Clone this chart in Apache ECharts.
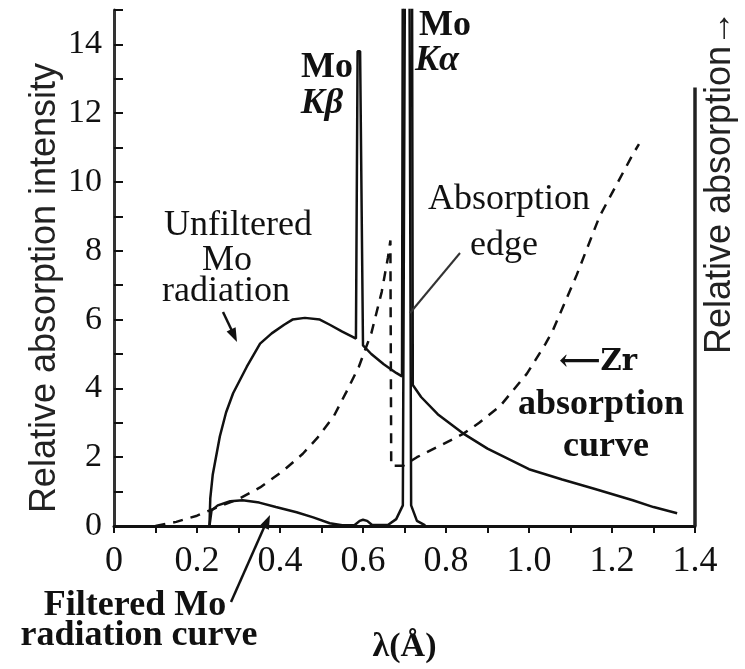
<!DOCTYPE html>
<html>
<head>
<meta charset="utf-8">
<script src="https://cdn.jsdelivr.net/npm/echarts@6/dist/echarts.min.js"></script>
<style>
html,body{margin:0;padding:0;background:#fff;}
#chart{width:745px;height:669px;}
</style>
</head>
<body>
<div id="chart"></div>
<script>
// Tick labels
var xTickLabels = ['0', '0.2', '0.4', '0.6', '0.8', '1.0', '1.2', '1.4'];
var yTickLabels = ['0', '2', '4', '6', '8', '10', '12', '14'];

// Unfiltered Mo radiation: [wavelength (Å), relative intensity]
var unfilteredMo = [
  [0.23, 0], [0.232, 0.8], [0.238, 1.5], [0.255, 2.6], [0.27, 3.3], [0.287, 3.86],
  [0.32, 4.63], [0.352, 5.3], [0.38, 5.6], [0.41, 5.85], [0.43, 6.0], [0.46, 6.05],
  [0.496, 6.0], [0.52, 5.85], [0.55, 5.65], [0.575, 5.5], [0.583, 5.45],
  [0.587, 13.8], [0.593, 13.8], [0.6, 5.25], [0.62, 5.0], [0.65, 4.7], [0.68, 4.45],
  [0.694, 4.35], [0.696, 17], [0.718, 17], [0.72, 4.1], [0.74, 3.75], [0.78, 3.25],
  [0.84, 2.7], [0.9, 2.25], [0.95, 1.95], [1.0, 1.65], [1.08, 1.35], [1.155, 1.09],
  [1.25, 0.75], [1.3, 0.55], [1.357, 0.37]
];

// Filtered Mo radiation curve
var filteredMo = [
  [0.23, 0], [0.235, 0.45], [0.25, 0.6], [0.28, 0.72], [0.31, 0.75], [0.35, 0.68],
  [0.39, 0.55], [0.44, 0.4], [0.48, 0.25], [0.52, 0.08], [0.55, 0.02], [0.58, 0.03],
  [0.592, 0.15], [0.6, 0.18], [0.61, 0.15], [0.622, 0.03], [0.66, 0.03], [0.68, 0.2],
  [0.696, 0.6], [0.701, 16], [0.712, 16], [0.716, 0.6], [0.73, 0.15], [0.75, 0.02]
];

// Zr absorption curve (dashed)
var zrAbsorption = [
  [0.1, 0], [0.15, 0.12], [0.2, 0.3], [0.25, 0.55], [0.3, 0.78], [0.352, 1.12],
  [0.407, 1.6], [0.455, 2.1], [0.49, 2.56], [0.53, 3.2], [0.56, 3.9], [0.59, 4.63],
  [0.62, 5.6], [0.645, 6.8], [0.66, 7.8], [0.666, 8.3], [0.668, 1.75], [0.697, 1.75],
  [0.73, 2.0], [0.78, 2.3], [0.84, 2.67], [0.88, 3.0], [0.93, 3.48], [0.995, 4.43],
  [1.04, 5.3], [1.058, 5.7], [1.115, 7.3], [1.17, 9.0], [1.25, 10.8], [1.265, 11.1]
];

// Right-hand "relative absorption" axis extent
var rightAxis = [[1.4, 0], [1.4, 12.75]];

var chart = echarts.init(document.getElementById('chart'), null, {renderer: 'canvas'});
var serif = '"Liberation Serif", "Times New Roman", serif';
var sans = '"Liberation Sans", Arial, sans-serif';
var ink = '#111';

function txt(text, x, y, size, weight, style, family) {
  return {
    type: 'text', x: x, y: y, z: 10,
    style: {
      text: text, fill: ink,
      font: (style || 'normal') + ' ' + (weight || 'normal') + ' ' + size + 'px ' + (family || serif),
      textAlign: 'center', textVerticalAlign: 'middle'
    }
  };
}

var option = {
  animation: false,
  backgroundColor: '#fff',
  grid: {left: 114, right: 50, top: 10, bottom: 138, containLabel: false},
  xAxis: {
    type: 'value', min: 0, max: 1.4, interval: 0.1,
    name: 'λ(Å)', nameLocation: 'middle', nameGap: 104,
    nameTextStyle: {fontFamily: serif, fontSize: 34, fontWeight: 'bold', color: ink},
    axisLine: {show: true, lineStyle: {color: ink, width: 3}},
    axisTick: {show: true, inside: false, length: 7, lineStyle: {color: ink, width: 2}},
    axisLabel: {
      margin: 18, fontFamily: serif, fontSize: 36, color: ink,
      formatter: function (v) {
        var n = Math.round(v * 10);
        return n % 2 === 0 ? xTickLabels[n / 2] : '';
      }
    },
    splitLine: {show: false}
  },
  yAxis: {
    type: 'value', min: 0, max: 15, interval: 1,
    axisLine: {show: true, lineStyle: {color: '#333', width: 3}},
    axisTick: {show: true, inside: true, length: 9, lineStyle: {color: ink, width: 2}},
    axisLabel: {
      margin: 12, fontFamily: serif, fontSize: 34, color: ink,
      formatter: function (v) {
        var n = Math.round(v);
        return (n % 2 === 0 && n < 15) ? yTickLabels[n / 2] : '';
      }
    },
    splitLine: {show: false}
  },
  series: [
    {
      name: 'Unfiltered Mo radiation', type: 'line', data: unfilteredMo,
      showSymbol: false, symbol: 'none', clip: true,
      lineStyle: {color: ink, width: 2.5}
    },
    {
      name: 'Filtered Mo radiation curve', type: 'line', data: filteredMo,
      showSymbol: false, symbol: 'none', clip: true,
      lineStyle: {color: ink, width: 2.5}
    },
    {
      name: 'Zr absorption curve', type: 'line', data: zrAbsorption,
      showSymbol: false, symbol: 'none', clip: true,
      lineStyle: {color: ink, width: 2.5, type: [10, 8]}
    },
    {
      name: 'Relative absorption axis', type: 'line', data: rightAxis,
      showSymbol: false, symbol: 'none',
      lineStyle: {color: '#222', width: 3.5}
    }
  ],
  graphic: [
    {type: 'text', x: 45, y: 288, rotation: Math.PI / 2, z: 10,
      style: {text: 'Relative absorption intensity', fill: '#222',
        font: 'normal 36px ' + sans, textAlign: 'center', textVerticalAlign: 'middle'}},
    {type: 'text', x: 720, y: 182, rotation: Math.PI / 2, z: 10,
      style: {text: 'Relative absorption→', fill: '#222',
        font: 'normal 36px ' + sans, textAlign: 'center', textVerticalAlign: 'middle'}},
    txt('Mo', 327, 68, 36, 'bold'),
    txt('Kβ', 322, 104, 36, 'bold', 'italic'),
    txt('Mo', 445, 26, 36, 'bold'),
    txt('Kα', 437, 61, 36, 'bold', 'italic'),
    txt('Unfiltered', 238, 226, 36),
    txt('Mo', 227, 261, 36),
    txt('radiation', 226, 292, 36),
    txt('Absorption', 509, 200, 36),
    txt('edge', 504, 246, 36),
    txt('⟵Zr', 598, 362, 29, 'bold', 'normal', '"DejaVu Serif", serif'),
    txt('absorption', 601, 405, 36, 'bold'),
    txt('curve', 606, 447, 36, 'bold'),
    txt('Filtered Mo', 135, 606, 36, 'bold'),
    txt('radiation curve', 139, 636, 36, 'bold'),
    {type: 'line', z: 10, shape: {x1: 460, y1: 253, x2: 410, y2: 313}, style: {stroke: '#333', lineWidth: 2}},
    {type: 'line', z: 10, shape: {x1: 231, y1: 602, x2: 266, y2: 523}, style: {stroke: ink, lineWidth: 2.5}},
    {type: 'polygon', z: 10, shape: {points: [[270, 515], [268.9, 529.8], [259.7, 525.8]]}, style: {fill: ink}},
    {type: 'line', z: 10, shape: {x1: 223, y1: 312, x2: 233, y2: 333}, style: {stroke: ink, lineWidth: 2.5}},
    {type: 'polygon', z: 10, shape: {points: [[237, 342], [235.6, 327.2], [226.6, 331.4]]}, style: {fill: ink}}
  ]
};
chart.setOption(option);
</script>
</body>
</html>
